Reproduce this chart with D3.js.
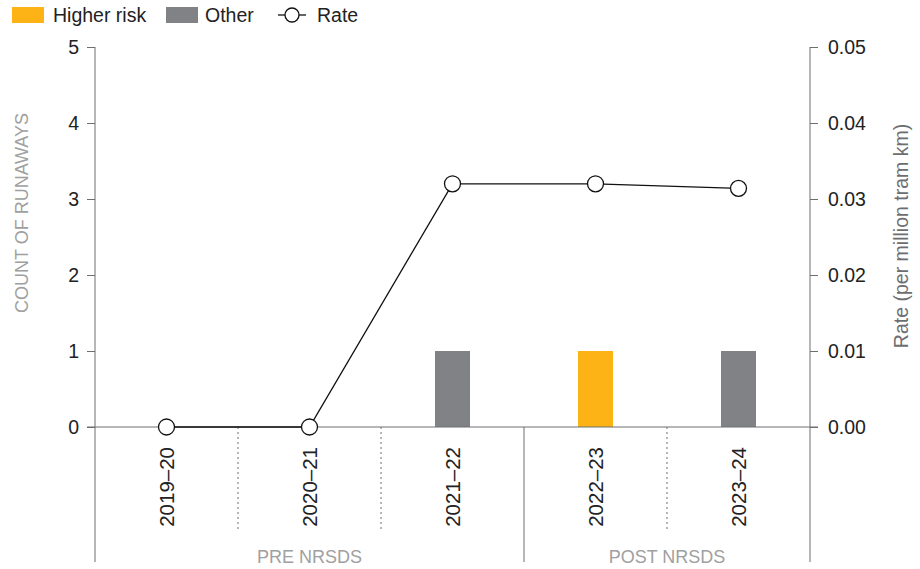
<!DOCTYPE html>
<html>
<head>
<meta charset="utf-8">
<script src="https://cdn.jsdelivr.net/npm/d3@7"></script>
<style>
  body { margin: 0; background: #fff; }
  text { font-family: "Liberation Sans", Arial, sans-serif; }
</style>
</head>
<body>
<div id="chart"></div>
<script>
// data
const years = ["2019–20", "2020–21", "2021–22", "2022–23", "2023–24"]
const higherRisk = [0, 0, 0, 1, 0]
const other = [0, 0, 1, 0, 1]
const rate = [0, 0, 0.032, 0.032, 0.0314]
const countTicks = [0, 1, 2, 3, 4, 5]
const rateTicks = [0, 0.01, 0.02, 0.03, 0.04, 0.05]
const periods = [
  { label: "PRE NRSDS", from: 0, to: 2 },
  { label: "POST NRSDS", from: 3, to: 4 }
]

const width = 920
const height = 569
const marginLeft = 95       // left axis x
const marginRight = 110     // right axis at width - marginRight
const yTop = 47
const yZero = 427
const yBottom = 562

const colorHigh = "#FDB316"
const colorOther = "#808285"
const axisColor = "#6d6e71"

const svg = d3.select("#chart").append("svg")
  .attr("width", width)
  .attr("height", height)

const x = d3.scaleBand(years, [marginLeft, width - marginRight]).padding(0)
const y = d3.scaleLinear([0, 5], [yZero, yTop])
const yRate = d3.scaleLinear([0, 0.05], [yZero, yTop])
const barW = 35

// left axis
const leftAxis = svg.append("g").attr("transform", `translate(${marginLeft},0)`)
  .call(d3.axisLeft(y).tickValues(countTicks).tickSize(8).tickPadding(8).tickFormat(d3.format("d")))
leftAxis.select(".domain").remove()
leftAxis.append("line").attr("y1", yTop).attr("y2", yBottom).attr("stroke", axisColor)
leftAxis.selectAll(".tick line").attr("stroke", axisColor)
leftAxis.selectAll(".tick text").attr("font-size", 19.5).attr("fill", "#222")

// right axis
const rightX = width - marginRight
const rightAxis = svg.append("g").attr("transform", `translate(${rightX},0)`)
  .call(d3.axisRight(yRate).tickValues(rateTicks).tickSize(8).tickPadding(10).tickFormat(d3.format(".2f")))
rightAxis.select(".domain").remove()
rightAxis.append("line").attr("y1", yTop).attr("y2", yBottom).attr("stroke", axisColor)
rightAxis.selectAll(".tick line").attr("stroke", axisColor)
rightAxis.selectAll(".tick text").attr("font-size", 19.5).attr("fill", "#222")

// axis titles
svg.append("text")
  .attr("transform", `translate(28,213) rotate(-90)`)
  .attr("text-anchor", "middle")
  .attr("font-size", 18)
  .attr("fill", "#a0a0a0")
  .text("COUNT OF RUNAWAYS")
svg.append("text")
  .attr("transform", `translate(908,236) rotate(-90)`)
  .attr("text-anchor", "middle")
  .attr("font-size", 19.5)
  .attr("fill", "#6d6e71")
  .text("Rate (per million tram km)")

// separators between categories
years.slice(1).forEach((yr, i) => {
  const sx = x(yr)
  const isPeriodBreak = periods.some(p => p.from === i + 1)
  svg.append("line")
    .attr("x1", sx).attr("x2", sx)
    .attr("y1", yZero).attr("y2", isPeriodBreak ? yBottom : 532)
    .attr("stroke", axisColor)
    .attr("stroke-dasharray", isPeriodBreak ? null : "2,3")
})

// bars (stacked)
const stackData = years.map((yr, i) => ({ year: yr, high: higherRisk[i], other: other[i] }))
const series = d3.stack().keys(["high", "other"])(stackData)
const colors = { high: colorHigh, other: colorOther }
svg.append("g").selectAll("g")
  .data(series)
  .join("g")
  .attr("fill", s => colors[s.key])
  .selectAll("rect")
  .data(s => s)
  .join("rect")
  .attr("x", d => x(d.data.year) + x.bandwidth() / 2 - barW / 2)
  .attr("y", d => y(d[1]))
  .attr("width", barW)
  .attr("height", d => y(d[0]) - y(d[1]))

// zero line
svg.append("line")
  .attr("x1", marginLeft - 8).attr("x2", rightX + 8)
  .attr("y1", yZero).attr("y2", yZero)
  .attr("stroke", axisColor)

// category labels
svg.append("g").selectAll("text")
  .data(years)
  .join("text")
  .attr("transform", d => `translate(${x(d) + x.bandwidth() / 2},447) rotate(-90)`)
  .attr("text-anchor", "end")
  .attr("dy", "0.35em")
  .attr("font-size", 20.5)
  .attr("fill", "#222")
  .text(d => d)

// period labels
svg.append("g").selectAll("text")
  .data(periods)
  .join("text")
  .attr("x", p => (x(years[p.from]) + x(years[p.to]) + x.bandwidth()) / 2)
  .attr("y", 563)
  .attr("text-anchor", "middle")
  .attr("font-size", 18)
  .attr("fill", "#a0a0a0")
  .text(p => p.label)

// rate line
const line = d3.line().x((d, i) => x(years[i]) + x.bandwidth() / 2).y(d => yRate(d))
svg.append("path")
  .datum(rate)
  .attr("fill", "none")
  .attr("stroke", "#111")
  .attr("stroke-width", 1.3)
  .attr("d", line)
svg.append("g").selectAll("circle")
  .data(rate)
  .join("circle")
  .attr("cx", (d, i) => x(years[i]) + x.bandwidth() / 2)
  .attr("cy", d => yRate(d))
  .attr("r", 8)
  .attr("fill", "#fff")
  .attr("stroke", "#111")
  .attr("stroke-width", 1.3)

// legend
const legend = svg.append("g").attr("font-size", 19.5).attr("fill", "#222")
legend.append("rect").attr("x", 12).attr("y", 7).attr("width", 32).attr("height", 16).attr("fill", colorHigh)
legend.append("text").attr("x", 53).attr("y", 22).text("Higher risk")
legend.append("rect").attr("x", 166).attr("y", 7).attr("width", 32).attr("height", 16).attr("fill", colorOther)
legend.append("text").attr("x", 205).attr("y", 22).text("Other")
legend.append("line").attr("x1", 278).attr("x2", 306).attr("y1", 15).attr("y2", 15).attr("stroke", "#111").attr("stroke-width", 1.3)
legend.append("circle").attr("cx", 292).attr("cy", 15).attr("r", 7).attr("fill", "#fff").attr("stroke", "#111").attr("stroke-width", 1.3)
legend.append("text").attr("x", 317).attr("y", 22).text("Rate")
</script>
</body>
</html>
